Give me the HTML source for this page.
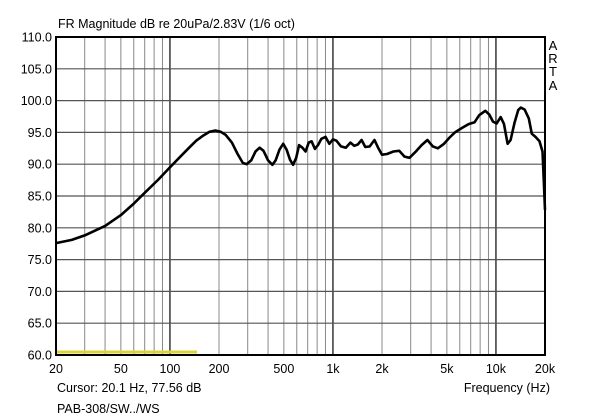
<!DOCTYPE html>
<html><head><meta charset="utf-8"><style>
html,body{margin:0;padding:0;background:#fff;}
svg{display:block;font-family:"Liberation Sans",Arial,sans-serif;}
</style></head><body>
<svg id="s" width="600" height="419" xmlns="http://www.w3.org/2000/svg">
<rect width="600" height="419" fill="#fff"/>
<g id="grid"></g>
<line x1="57" y1="352" x2="197" y2="352" stroke="#d8d43a" stroke-width="3"/>
<path id="curve" fill="none" stroke="#000" stroke-width="2.6" stroke-linejoin="round"/>
<rect x="56" y="37" width="489" height="318" fill="none" stroke="#000" stroke-width="2"/>
<text x="58" y="28" font-size="12.5">FR Magnitude dB re 20uPa/2.83V (1/6 oct)</text>
<g id="ylab" font-size="12.5" text-anchor="end"></g>
<g id="xlab" font-size="12.5" text-anchor="middle"></g>
<g font-size="13" text-anchor="middle">
<text x="553" y="50">A</text><text x="553" y="63">R</text><text x="553" y="76">T</text><text x="553" y="90">A</text>
</g>
<text x="57" y="392" font-size="12.5">Cursor: 20.1 Hz, 77.56 dB</text>
<text x="550" y="392" font-size="12.5" text-anchor="end">Frequency (Hz)</text>
<text x="57" y="413" font-size="12.5">PAB-308/SW../WS</text>
</svg>
<script>
var L=56,R=545,T=37,B=355;
function X(f){return L+163*Math.log10(f/20);}
function Y(d){return B-(d-60)*(B-T)/50;}
var ns="http://www.w3.org/2000/svg",g=document.getElementById('grid');
function ln(x1,y1,x2,y2,w,c){var e=document.createElementNS(ns,'line');e.setAttribute('x1',x1);e.setAttribute('y1',y1);e.setAttribute('x2',x2);e.setAttribute('y2',y2);e.setAttribute('stroke',c);e.setAttribute('stroke-width',w);g.appendChild(e);}
[10,100,1000,10000].forEach(function(dec){for(var m=1;m<10;m++){var f=dec*m;if(f<=20||f>=20000)continue;var th=(m==1);ln(X(f),T,X(f),B,th?1.6:1,th?'#444':'#888');}});
for(var d=65;d<110;d+=5)ln(L,Y(d),R,Y(d),1.2,'#555');
var yl=document.getElementById('ylab');
for(var d=60;d<=110;d+=5){var t=document.createElementNS(ns,'text');t.setAttribute('x',52);t.setAttribute('y',Y(d)+4.5);t.textContent=d.toFixed(1);yl.appendChild(t);}
var xl=document.getElementById('xlab');
[[20,'20'],[50,'50'],[100,'100'],[200,'200'],[500,'500'],[1000,'1k'],[2000,'2k'],[5000,'5k'],[10000,'10k'],[20000,'20k']].forEach(function(p){var t=document.createElementNS(ns,'text');t.setAttribute('x',X(p[0]));t.setAttribute('y',373);t.textContent=p[1];xl.appendChild(t);});
var pts=[[20,77.6],[25,78.1],[30,78.8],[40,80.3],[50,82],[60,83.8],[70,85.5],[85,87.6],[100,89.5],[115,91.1],[130,92.5],[145,93.7],[160,94.5],[175,95.1],[190,95.3],[205,95.1],[220,94.6],[240,93.4],[260,91.6],[280,90.2],[295,90],[315,90.6],[335,92],[355,92.6],[375,92.1],[400,90.6],[425,89.9],[445,90.6],[470,92.3],[495,93.2],[520,92.3],[545,90.7],[570,89.9],[595,91],[620,93],[650,92.6],[680,92],[710,93.4],[740,93.6],[775,92.4],[810,93],[850,94],[900,94.3],[950,93.2],[1000,93.9],[1050,93.7],[1120,92.8],[1200,92.6],[1280,93.4],[1350,92.9],[1420,93.1],[1500,93.8],[1580,92.7],[1680,92.8],[1800,93.8],[1900,92.5],[2000,91.5],[2150,91.6],[2350,92],[2550,92.1],[2750,91.2],[2950,91],[3200,91.9],[3500,93],[3800,93.8],[4100,92.8],[4400,92.5],[4800,93.2],[5200,94.2],[5600,95],[6200,95.7],[6800,96.3],[7400,96.6],[7900,97.7],[8600,98.4],[9100,97.8],[9600,96.7],[10100,96.4],[10700,97.4],[11200,96.3],[11800,93.2],[12300,93.8],[13000,96.5],[13700,98.5],[14200,98.9],[15000,98.6],[15900,97.2],[16600,94.8],[17500,94.3],[18500,93.6],[19300,92],[19700,87],[20000,82.8]];
var d='';pts.forEach(function(p,i){d+=(i?'L':'M')+X(p[0]).toFixed(1)+','+Y(p[1]).toFixed(1);});
document.getElementById('curve').setAttribute('d',d);
</script>
</body></html>
